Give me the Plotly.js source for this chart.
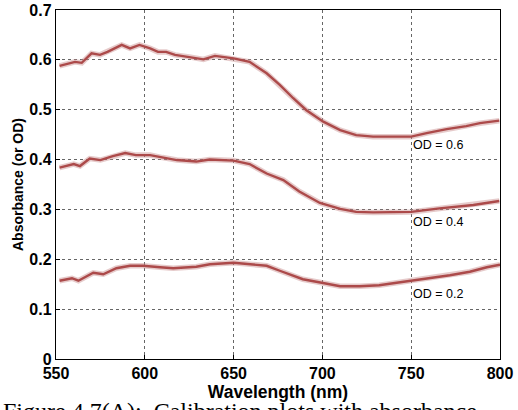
<!DOCTYPE html>
<html>
<head>
<meta charset="utf-8">
<script src="https://cdn.plot.ly/plotly-3.0.1.min.js"></script>
<style>html,body{margin:0;padding:0;background:#fff;overflow:hidden}</style>
</head>
<body>
<div id="chart" style="width:518px;height:410px"></div>
<script>
const wl06 = [552,560.7,564.5,570,574.8,579,587,591.7,597,603,607.4,612,617,625,633,639.5,650,659,668.6,676,683.6,691,700.5,710,719,728.5,738,750,758.7,770,781,788.7,799.6];
const od06 = [0.588,0.596,0.594,0.613,0.610,0.616,0.630,0.623,0.630,0.623,0.616,0.616,0.610,0.606,0.601,0.608,0.603,0.596,0.573,0.550,0.523,0.499,0.476,0.459,0.449,0.446,0.446,0.446,0.453,0.461,0.467,0.473,0.478];
const wl04 = [552,560,563.5,569,575,582,589,595,603,610,618,629,636.5,650,659,668.6,678,687,698.6,710,719,728.6,750,766,785,799.6];
const od04 = [0.384,0.391,0.387,0.402,0.399,0.407,0.413,0.409,0.409,0.404,0.399,0.396,0.400,0.398,0.391,0.372,0.359,0.336,0.313,0.301,0.295,0.294,0.295,0.302,0.309,0.317];
const wl02 = [552,559,562.6,571,576.6,584,591.7,599,608.6,616,629,636.7,650,659,668.6,676,680,689,699.6,710,721,732,741.8,750,760.6,771.8,783,792.6,800];
const od02 = [0.157,0.162,0.157,0.173,0.170,0.182,0.187,0.187,0.184,0.182,0.185,0.190,0.193,0.190,0.187,0.177,0.172,0.160,0.153,0.146,0.146,0.148,0.153,0.157,0.162,0.168,0.175,0.184,0.189];
const labels = ["OD = 0.6","OD = 0.4","OD = 0.2"];
const labelX = [750,750,750];
const labelY = [0.429,0.275,0.130];
const xTicks = [550,600,650,700,750,800];
const yTicks = [0,0.1,0.2,0.3,0.4,0.5,0.6,0.7];
const yTickText = ["0","0.1","0.2","0.3","0.4","0.5","0.6","0.7"];

const series = [[wl06,od06],[wl04,od04],[wl02,od02]];
const traces = [];
series.forEach(s => {
  traces.push({x:s[0], y:s[1], mode:'lines', line:{color:'rgba(200,140,140,0.45)', width:5.5}, hoverinfo:'skip', showlegend:false});
});
series.forEach(s => {
  traces.push({x:s[0], y:s[1], mode:'lines', line:{color:'#ac4a4a', width:2.4}, showlegend:false});
});

const annotations = labels.map((t,i) => ({
  x: labelX[i], y: labelY[i], xref:'x', yref:'y', text:t, showarrow:false,
  xanchor:'left', yanchor:'middle', font:{family:'Liberation Sans, Arial', size:12.5, color:'#000'}
}));
annotations.push({
  xref:'paper', yref:'paper', x:-0.124, y:-0.106, xanchor:'left', yanchor:'top',
  text:'Figure 4.7(A):  Calibration plots with absorbance', showarrow:false,
  font:{family:'Liberation Serif, Times New Roman', size:24, color:'#000'}
});

const axisFont = {family:'Liberation Sans, Arial', size:16, color:'#000', weight:'bold'};
const layout = {
  width:518, height:410,
  margin:{l:56, r:18, t:10, b:51},
  paper_bgcolor:'#fff', plot_bgcolor:'#fff',
  font:{family:'Liberation Sans, Arial', color:'#000'},
  xaxis:{
    range:[550,800], tickvals:xTicks, ticktext:xTicks.map(String),
    showgrid:true, gridcolor:'#666', griddash:'dot', gridwidth:1,
    showline:true, linecolor:'#000', linewidth:1.2, mirror:true,
    ticks:'inside', ticklen:4, tickcolor:'#000',
    tickfont:axisFont, zeroline:false,
    title:{text:'Wavelength (nm)', font:{family:'Liberation Sans, Arial', size:17.5, color:'#000', weight:'bold'}, standoff:0}
  },
  yaxis:{
    range:[0,0.7], tickvals:yTicks, ticktext:yTickText,
    showgrid:true, gridcolor:'#666', griddash:'dot', gridwidth:1,
    showline:true, linecolor:'#000', linewidth:1.2, mirror:true,
    ticks:'inside', ticklen:4, tickcolor:'#000',
    tickfont:axisFont, zeroline:false,
    title:{text:'Absorbance (or OD)', font:{family:'Liberation Sans, Arial', size:14, color:'#000', weight:'bold'}, standoff:2}
  },
  annotations: annotations
};
Plotly.newPlot('chart', traces, layout, {displayModeBar:false, staticPlot:true});
</script>
</body>
</html>
